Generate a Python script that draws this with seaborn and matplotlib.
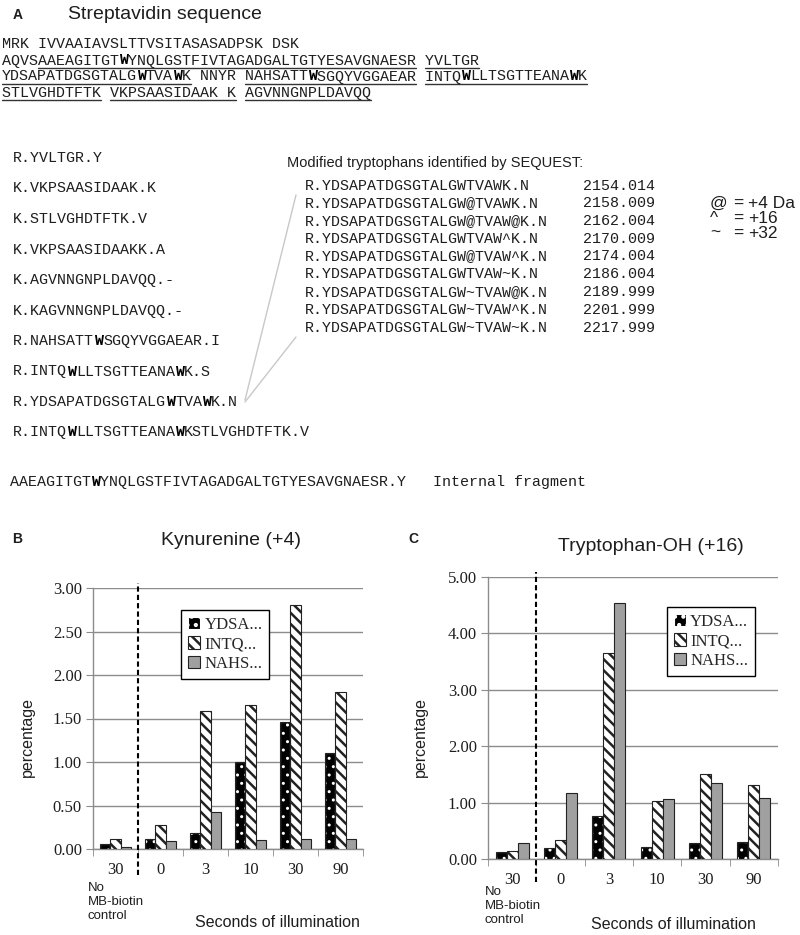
import re
import numpy as np
import pandas as pd
import matplotlib
matplotlib.use("Agg")
import matplotlib.pyplot as plt
from matplotlib.lines import Line2D
from matplotlib.patches import Rectangle
from matplotlib.ticker import FormatStrFormatter
import seaborn as sns

sns.set_style("white")
SANS = ["Liberation Sans", "DejaVu Sans"]
SERIF = ["Liberation Serif", "DejaVu Serif"]
MONO = ["Liberation Mono", "DejaVu Sans Mono"]
plt.rcParams["font.family"] = SERIF
plt.rcParams["hatch.linewidth"] = 1.8

W_PX, H_PX = 800, 935
INK = "#1e1e1e"

# ---- panel A: sequence text (segment, underlined) ----
seq_rows = [
    [("MRK IVVAAIAVSLTTVSITASASADPSK DSK", False)],
    [("AQVS", False), ("AAEAGITGTWYNQLGSTFIVTAGADGALTGTYESAVGNAESR", True),
     (" ", False), ("YVLTGR", True)],
    [("YDSAPATDGSGTALGWTVAWK", True), (" NNYR ", False),
     ("NAHSATTWSGQYVGGAEAR", True), (" ", False), ("INTQWLLTSGTTEANAWK", True)],
    [("STLVGHDTFTK", True), (" ", False), ("VKPSAASIDAAK K", True),
     (" ", False), ("AGVNNGNPLDAVQQ", True)],
]

peptides = [
    "R.YVLTGR.Y",
    "K.VKPSAASIDAAK.K",
    "K.STLVGHDTFTK.V",
    "K.VKPSAASIDAAKK.A",
    "K.AGVNNGNPLDAVQQ.-",
    "K.KAGVNNGNPLDAVQQ.-",
    "R.NAHSATTWSGQYVGGAEAR.I",
    "R.INTQWLLTSGTTEANAWK.S",
    "R.YDSAPATDGSGTALGWTVAWK.N",
    "R.INTQWLLTSGTTEANAWKSTLVGHDTFTK.V",
]
internal_line = "AAEAGITGTWYNQLGSTFIVTAGADGALTGTYESAVGNAESR.Y   Internal fragment"

modified = [
    "R.YDSAPATDGSGTALGWTVAWK.N",
    "R.YDSAPATDGSGTALGW@TVAWK.N",
    "R.YDSAPATDGSGTALGW@TVAW@K.N",
    "R.YDSAPATDGSGTALGWTVAW^K.N",
    "R.YDSAPATDGSGTALGW@TVAW^K.N",
    "R.YDSAPATDGSGTALGWTVAW~K.N",
    "R.YDSAPATDGSGTALGW~TVAW@K.N",
    "R.YDSAPATDGSGTALGW~TVAW^K.N",
    "R.YDSAPATDGSGTALGW~TVAW~K.N",
]
masses = ["2154.014", "2158.009", "2162.004", "2170.009", "2174.004",
          "2186.004", "2189.999", "2201.999", "2217.999"]
mod_symbols = ["@", "^", "~"]
mod_shifts = ["+4 Da", "+16", "+32"]

# ---- panels B and C: bar data ----
conditions = ["ctrl30", "0", "3", "10", "30", "90"]
tick_labels = ["30", "0", "3", "10", "30", "90"]
peptide_names = ["YDSA...", "INTQ...", "NAHS..."]

kyn_ydsa = [0.06, 0.11, 0.18, 1.00, 1.46, 1.10]
kyn_intq = [0.12, 0.28, 1.59, 1.65, 2.81, 1.80]
kyn_nahs = [0.02, 0.09, 0.42, 0.10, 0.12, 0.11]

trp_ydsa = [0.12, 0.19, 0.77, 0.21, 0.28, 0.30]
trp_intq = [0.15, 0.33, 3.65, 1.03, 1.50, 1.31]
trp_nahs = [0.28, 1.17, 4.54, 1.07, 1.35, 1.08]

bar_colors = {"YDSA...": "black", "INTQ...": "white", "NAHS...": "#a0a0a0"}
EDGE = "#222222"
GRID = "#8c8c8c"

fig = plt.figure(figsize=(W_PX / 100, H_PX / 100), dpi=100)


def ftxt(x, y, s, **kw):
    return fig.text(x / W_PX, 1 - y / H_PX, s, **kw)


def fline(x0, y0, x1, y1, **kw):
    fig.add_artist(Line2D([x0 / W_PX, x1 / W_PX], [1 - y0 / H_PX, 1 - y1 / H_PX], **kw))


CW = 9.0                      # px per monospace character
MONO_FS = CW / 0.6 * 0.72     # font size in pt


def mono(x, y, s, bold_w=False):
    if not bold_w:
        ftxt(x, y, s, family=MONO, fontsize=MONO_FS, va="baseline", color=INK)
        return
    # split into runs so the bold W's sit in their own character cells
    for m in re.finditer(r"W+|[^W]+", s):
        seg = m.group()
        lead = len(seg) - len(seg.lstrip(" "))
        seg = seg.strip(" ")
        if not seg:
            continue
        bold = seg[0] == "W"
        ftxt(x + (m.start() + lead) * CW, y, seg, family=MONO, fontsize=MONO_FS,
             weight="bold" if bold else "normal", va="baseline",
             color="black" if bold else INK)


# ---- panel A ----
ftxt(13, 19, "A", family=SANS, weight="bold", fontsize=10, va="baseline", color=INK)
ftxt(68, 19, "Streptavidin sequence", family=SANS, fontsize=14, va="baseline", color=INK)

for r, row in enumerate(seq_rows):
    y = 48.5 + r * 16
    mono(2, y, "".join(seg for seg, _ in row), bold_w=True)
    pos = 0
    for seg, under in row:
        if under:
            fline(2 + pos * CW, y + 3, 2 + (pos + len(seg)) * CW, y + 3, color="#333333", lw=1.0)
        pos += len(seg)

for i, p in enumerate(peptides):
    mono(13, 162 + i * 30.5, p, bold_w=True)
mono(10, 486, internal_line, bold_w=True)

ftxt(287, 167, "Modified tryptophans identified by SEQUEST:", family=SANS,
     fontsize=10.5, va="baseline", color=INK)
for i, (p, m) in enumerate(zip(modified, masses)):
    y = 189.5 + i * 17.75
    mono(305, y, p)
    mono(583, y, m)
for i, (s, v) in enumerate(zip(mod_symbols, mod_shifts)):
    y = 208 + i * 15
    ftxt(710, y, s, family=SANS, fontsize=12.5, va="baseline", color=INK)
    ftxt(733, y, "=", family=SANS, fontsize=12.5, va="baseline", color=INK)
    ftxt(748, y, v, family=SANS, fontsize=12.5, va="baseline", color=INK)

fline(245, 400, 296, 195, color="#c8c8c8", lw=1.0)
fline(245, 402, 296, 337, color="#c8c8c8", lw=1.0)


# ---- panels B and C ----
def bar_panel(box, vals, ymax, step, leg_anchor, dash_lim):
    left, top, right, bottom = box
    ax = fig.add_axes([left / W_PX, 1 - bottom / H_PX, (right - left) / W_PX, (bottom - top) / H_PX])
    df = pd.DataFrame({
        "cond": np.tile(conditions, len(peptide_names)),
        "peptide": np.repeat(peptide_names, len(conditions)),
        "value": np.concatenate(vals),
    })
    sns.barplot(data=df, x="cond", y="value", hue="peptide", order=conditions,
                hue_order=peptide_names, palette=bar_colors, width=0.68, saturation=1,
                edgecolor=EDGE, linewidth=0.8, legend=False, ax=ax, zorder=3)
    dots, stripes, gray = ax.containers
    for p in dots.patches:
        p.set_hatch("..")
        p.set_edgecolor("white")
        if hasattr(p, "set_hatch_linewidth"):
            p.set_hatch_linewidth(1.0)
        ax.add_patch(Rectangle(p.get_xy(), p.get_width(), p.get_height(), fill=False,
                               ec=EDGE, lw=0.8, zorder=4))
    for p in stripes.patches:
        p.set_hatch("\\\\\\")
    ax.set_xlim(-0.5, len(conditions) - 0.5)
    ax.set_ylim(0, ymax)
    ax.set_yticks(np.arange(0, ymax + 1e-9, step))
    ax.yaxis.set_major_formatter(FormatStrFormatter("%.2f"))
    ax.set_xticks(range(len(conditions)), tick_labels)
    ax.set_xticks(np.arange(-0.5, len(conditions)), minor=True)
    ax.set_xlabel("")
    ax.set_ylabel("")
    ax.set_axisbelow(True)
    ax.yaxis.grid(True, color=GRID, lw=1.0)
    ax.xaxis.grid(False)
    for s in ["top", "right"]:
        ax.spines[s].set_visible(False)
    for s in ["left", "bottom"]:
        ax.spines[s].set_color(GRID)
        ax.spines[s].set_linewidth(1.0)
    ax.tick_params(axis="x", which="major", length=0, pad=9, labelsize=12, labelcolor=INK)
    ax.tick_params(axis="x", which="minor", length=5, color=GRID, direction="out", bottom=True)
    ax.tick_params(axis="y", length=5, color=GRID, direction="out", left=True, pad=3,
                   labelsize=12, labelcolor=INK)
    ax.axvline(0.5, ymin=dash_lim[0], ymax=dash_lim[1], clip_on=False, color="black",
               lw=1.5, ls=(0, (2.5, 1.5)), zorder=5)
    leg = ax.legend(ax.containers, peptide_names, loc="upper left", bbox_to_anchor=leg_anchor,
                    borderaxespad=0, fancybox=False, framealpha=1, edgecolor="black",
                    handlelength=0.75, handleheight=0.75, handletextpad=0.25,
                    labelspacing=0.22, borderpad=0.4, prop={"family": SERIF, "size": 12})
    leg.get_frame().set_linewidth(1.0)
    leg.set_zorder(6)
    return ax


bar_panel((93, 588, 363, 849), [kyn_ydsa, kyn_intq, kyn_nahs], 3.0, 0.5,
          (0.326, 0.916), (-0.10, 1.02))
bar_panel((488, 577, 778, 859), [trp_ydsa, trp_intq, trp_nahs], 5.0, 1.0,
          (0.617, 0.894), (-0.082, 1.018))

ftxt(12, 543, "B", family=SANS, weight="bold", fontsize=10, va="baseline", color=INK)
ftxt(231, 545, "Kynurenine (+4)", family=SANS, fontsize=14, ha="center", va="baseline", color=INK)
ftxt(408, 543, "C", family=SANS, weight="bold", fontsize=10, va="baseline", color=INK)
ftxt(651, 551, "Tryptophan-OH (+16)", family=SANS, fontsize=14, ha="center", va="baseline", color=INK)

for x in (27, 420):
    ftxt(x, 737, "percentage", family=SANS, fontsize=11.5, rotation=90,
         ha="center", va="center", color=INK)
ftxt(88, 882, "No\nMB-biotin\ncontrol", family=SANS, fontsize=9.5, va="top",
     linespacing=1.2, color=INK)
ftxt(485, 886, "No\nMB-biotin\ncontrol", family=SANS, fontsize=9.5, va="top",
     linespacing=1.2, color=INK)
ftxt(277, 927, "Seconds of illumination", family=SANS, fontsize=11.5, ha="center",
     va="baseline", color=INK)
ftxt(673, 929, "Seconds of illumination", family=SANS, fontsize=11.5, ha="center",
     va="baseline", color=INK)

fig.savefig("out.png", dpi=100)
